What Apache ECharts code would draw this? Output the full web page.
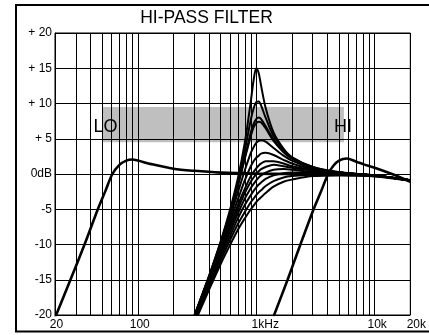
<!DOCTYPE html>
<html>
<head>
<meta charset="utf-8">
<script src="https://cdn.jsdelivr.net/npm/echarts@6.0.0/dist/echarts.min.js"></script>
<style>
html, body { margin: 0; padding: 0; background: #fff; }
#chart { width: 429px; height: 335px; }
</style>
</head>
<body>
<div id="chart"></div>
<script>
// axis ticks
const xTickValues = [20, 100, 1000, 10000, 20000];
const xTickLabels = ['20', '100', '1kHz', '10k', '20k'];
const yTickValues = [-20, -15, -10, -5, 0, 5, 10, 15, 20];
const yTickLabels = ['-20', '-15', '-10', '-5', '0dB', '+ 5', '+ 10', '+ 15', '+ 20'];
const minorFreqs = [30, 40, 50, 60, 70, 80, 90, 200, 300, 400, 500, 600, 700, 800, 900,
  2000, 3000, 4000, 5000, 6000, 7000, 8000, 9000];

// LO / HI range band
const bandFreqs = [50, 5500];
const bandDb = [4.5, 9.5];

// LO high-pass curve
const loFreqs = [20, 27, 35.5, 46, 53, 61, 70, 80, 90, 100, 130, 200, 300, 500, 1000, 2000, 5000, 10000, 20000];
const loDb = [-20.4, -15, -10, -5, -2.5, 0, 1.3, 1.9, 2.05, 1.9, 1.4, 0.75, 0.45, 0.2, 0.05, 0, -0.1, -0.3, -0.9];

// HI high-pass curve
const hiFreqs = [1400, 1840, 2360, 3050, 3500, 4050, 4500, 5000, 5800, 7000, 8000, 10000, 14000, 20000];
const hiDb = [-20.2, -15, -10, -5, -2.6, 0, 1.2, 1.9, 2.2, 1.75, 1.4, 0.9, 0, -1.1];

// 1 kHz family, one array per resonance setting
const famFreqs = [300, 400, 500, 600, 700, 800, 900, 950, 1000, 1050, 1100, 1200, 1400, 1700, 2000, 3000, 5000, 10000, 20000];
const res15 = [-20.1, -14.4, -9.6, -5.1, -0.6, 4.4, 10.3, 13.3, 15.0, 14.3, 12.5, 9.4, 5.9, 3.6, 2.4, 1.0, 0.3, -0.2, -0.9];
const res10 = [-20.1, -14.5, -9.7, -5.4, -1.1, 3.3, 7.7, 9.3, 10.2, 10.3, 9.7, 8.0, 5.4, 3.4, 2.3, 1.0, 0.2, -0.2, -0.9];
const res8 = [-20.2, -14.6, -9.9, -5.6, -1.5, 2.4, 5.9, 7.1, 7.8, 8.0, 7.8, 6.8, 4.9, 3.1, 2.2, 0.9, 0.2, -0.2, -0.9];
const res7 = [-20.2, -14.6, -9.9, -5.7, -1.7, 2.1, 5.4, 6.6, 7.2, 7.4, 7.3, 6.5, 4.7, 3.1, 2.2, 0.9, 0.2, -0.2, -0.9];
const res5 = [-20.3, -14.8, -10.2, -6.2, -2.6, 0.5, 3.0, 3.8, 4.4, 4.7, 4.8, 4.6, 3.7, 2.6, 1.9, 0.8, 0.2, -0.2, -0.9];
const res3 = [-20.4, -15.0, -10.6, -6.8, -3.6, -0.9, 1.1, 1.8, 2.3, 2.6, 2.9, 3.0, 2.7, 2.0, 1.5, 0.7, 0.2, -0.2, -0.9];
const res2 = [-20.5, -15.2, -10.9, -7.4, -4.4, -2.1, -0.3, 0.3, 0.8, 1.2, 1.5, 1.8, 1.8, 1.5, 1.1, 0.6, 0.1, -0.2, -0.9];
const res1 = [-20.5, -15.3, -11.1, -7.7, -5.0, -2.7, -1.1, -0.5, 0.0, 0.4, 0.7, 1.0, 1.3, 1.1, 0.9, 0.5, 0.1, -0.2, -0.9];
const resA = [-20.6, -15.5, -11.4, -8.2, -5.6, -3.5, -2.0, -1.4, -0.9, -0.5, -0.2, 0.2, 0.6, 0.7, 0.6, 0.3, 0.0, -0.2, -0.9];
const resB = [-20.8, -15.7, -11.8, -8.8, -6.3, -4.4, -3.0, -2.4, -1.9, -1.5, -1.2, -0.7, -0.2, 0.1, 0.2, 0.2, 0.0, -0.2, -0.9];
const flatC = [-21.0, -16.0, -12.3, -9.4, -7.1, -5.4, -4.0, -3.5, -3.0, -2.6, -2.3, -1.7, -1.0, -0.5, -0.3, -0.1, -0.1, -0.3, -0.9];
const flatD = [-21.2, -16.4, -12.8, -10.1, -7.9, -6.3, -5.0, -4.5, -4.0, -3.6, -3.3, -2.7, -1.8, -1.1, -0.8, -0.3, -0.2, -0.3, -0.9];

const FONT = '"Liberation Sans", Arial, sans-serif';
// nudges the x labels to the right like the original print
const xLabelPad = [3, 4, 18, 5, 12];

function pairs(xs, ys) {
  return xs.map((x, i) => [x, ys[i]]);
}

function curve(name, xs, ys, width) {
  return {
    name: name,
    type: 'line',
    data: pairs(xs, ys),
    smooth: 0.3,
    showSymbol: false,
    symbol: 'none',
    silent: true,
    z: 3,
    lineStyle: { color: '#000', width: width }
  };
}

const chart = echarts.init(document.getElementById('chart'), null, { renderer: 'canvas' });

const familySeries = [res15, res10, res8, res7, res5, res3, res2, res1, resA, resB, flatC, flatD]
  .map((ys, i) => curve('fam' + i, famFreqs, ys, 2));

const xRich = {};
xLabelPad.forEach((p, i) => {
  xRich['p' + i] = { padding: [0, 0, 0, p], fontSize: 12, fontFamily: FONT, color: '#000' };
});

const option = {
  backgroundColor: '#fff',
  animation: false,
  grid: {
    left: 55, top: 33, width: 361, height: 282,
    show: true, borderColor: '#000', borderWidth: 1, backgroundColor: 'transparent'
  },
  xAxis: {
    type: 'log',
    logBase: 10,
    min: 20,
    max: 20000,
    z: 2,
    axisLine: { show: true, lineStyle: { color: '#000', width: 1 } },
    axisTick: { show: false },
    splitLine: { show: true, lineStyle: { color: '#000', width: 1 } },
    axisLabel: {
      interval: 0,
      showMinLabel: true,
      showMaxLabel: true,
      margin: 4,
      fontSize: 12,
      fontFamily: FONT,
      color: '#000',
      rich: xRich,
      formatter: function (v) {
        const i = xTickValues.indexOf(Math.round(v));
        return i < 0 ? '' : '{p' + i + '|' + xTickLabels[i] + '}';
      }
    }
  },
  yAxis: {
    type: 'value',
    min: -20,
    max: 20,
    interval: 5,
    z: 2,
    axisLine: { show: true, lineStyle: { color: '#000', width: 1 } },
    axisTick: { show: false },
    splitLine: { show: true, lineStyle: { color: '#000', width: 1 } },
    axisLabel: {
      margin: 3,
      fontSize: 12,
      fontFamily: FONT,
      color: '#000',
      formatter: function (v) {
        const i = yTickValues.indexOf(Math.round(v));
        return i < 0 ? '' : yTickLabels[i];
      }
    }
  },
  graphic: [
    {
      type: 'rect', silent: true, z: 10,
      shape: { x: 16, y: 5, width: 500, height: 326.5 },
      style: { fill: 'none', stroke: '#000', lineWidth: 2 }
    },
    {
      type: 'text', silent: true, z: 10, x: 206.5, y: 18,
      style: { text: 'HI-PASS FILTER', font: '17.5px ' + FONT, fill: '#000', align: 'center', verticalAlign: 'middle' }
    },
    {
      type: 'text', silent: true, z: 10, x: 105.5, y: 127,
      style: { text: 'LO', font: '18px ' + FONT, fill: '#000', align: 'center', verticalAlign: 'middle' }
    },
    {
      type: 'text', silent: true, z: 10, x: 343, y: 127,
      style: { text: 'HI', font: '18px ' + FONT, fill: '#000', align: 'center', verticalAlign: 'middle' }
    }
  ],
  series: [
    {
      name: 'band',
      type: 'line',
      data: [],
      z: 1,
      silent: true,
      markArea: {
        silent: true,
        itemStyle: { color: '#bfbfbf', opacity: 1 },
        data: [[
          { xAxis: bandFreqs[0], yAxis: bandDb[0] },
          { xAxis: bandFreqs[1], yAxis: bandDb[1] }
        ]]
      }
    },
    {
      name: 'minorGrid',
      type: 'line',
      data: [],
      z: 2,
      silent: true,
      markLine: {
        silent: true,
        symbol: ['none', 'none'],
        label: { show: false },
        lineStyle: { color: '#000', width: 1, type: 'solid' },
        emphasis: { disabled: true },
        data: minorFreqs.map(f => ({ xAxis: f }))
      }
    },
    curve('LO', loFreqs, loDb, 2.6),
    curve('HI', hiFreqs, hiDb, 2.6)
  ].concat(familySeries)
};

chart.setOption(option);
</script>
</body>
</html>
